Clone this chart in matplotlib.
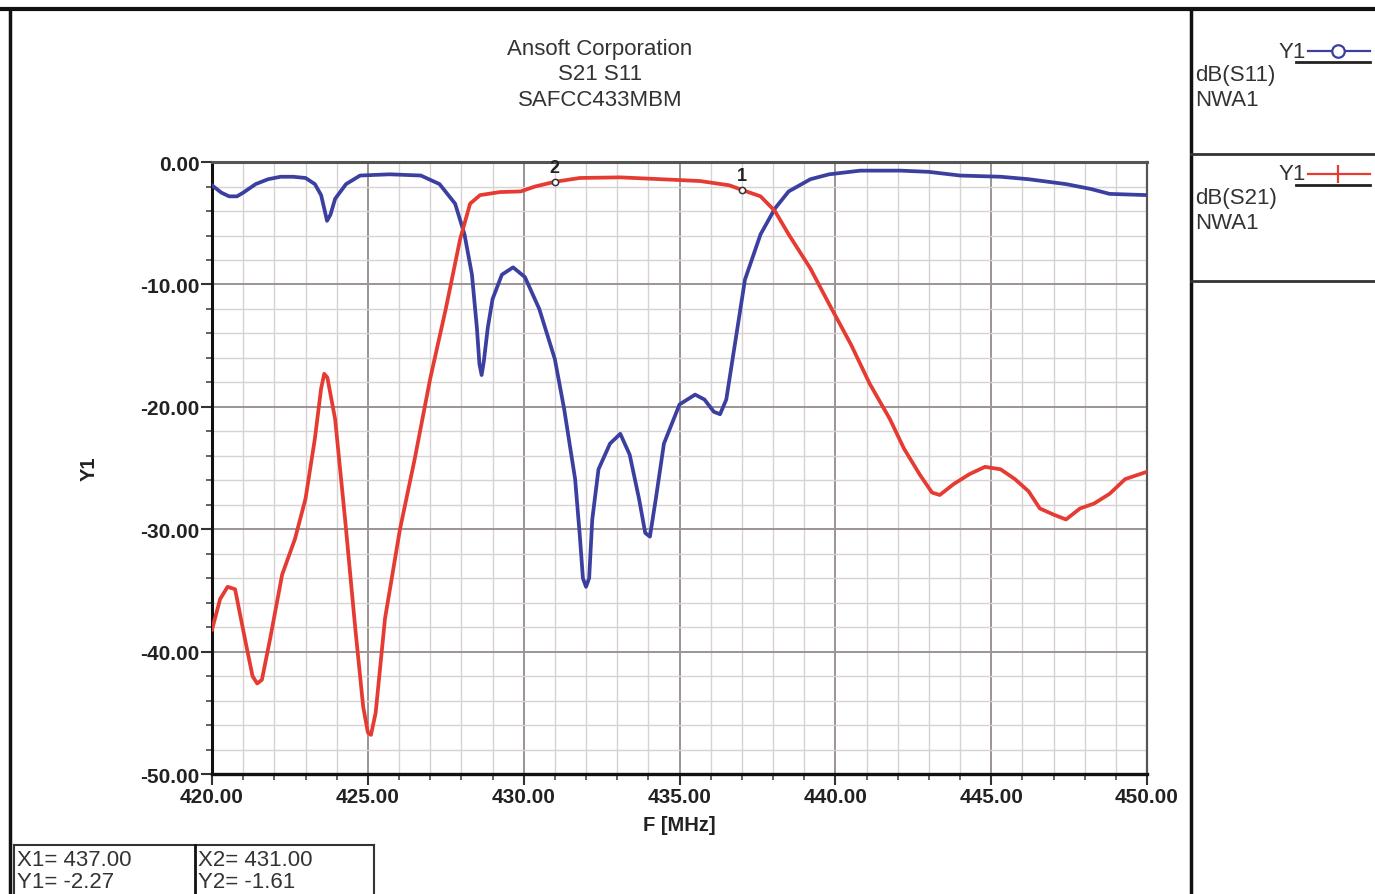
import numpy as np
import matplotlib
matplotlib.use("Agg")
import matplotlib.pyplot as plt
from matplotlib.lines import Line2D
from matplotlib.ticker import MultipleLocator
from matplotlib.transforms import ScaledTranslation

plt.rcParams['font.family'] = ['Liberation Sans', 'DejaVu Sans']

# dB(S11), blue trace
s11_f = [420.0, 420.3, 420.55, 420.8, 421.0, 421.4, 421.8, 422.2, 422.6, 423.0, 423.3, 423.5,
         423.6, 423.69, 423.8, 423.95, 424.3, 424.75, 425.7, 426.7, 427.3, 427.8, 428.1,
         428.34, 428.5, 428.58, 428.65, 428.72, 428.85, 429.0, 429.3, 429.66, 430.04, 430.5,
         431.0, 431.3, 431.65, 431.8, 431.9, 432.0, 432.1, 432.2, 432.4, 432.77, 433.1, 433.4,
         433.7, 433.9, 434.05, 434.24, 434.5, 435.0, 435.5, 435.8, 436.1, 436.3, 436.5, 436.8,
         437.1, 437.6, 438.06, 438.5, 439.2, 439.8, 440.8, 442.1, 443.0, 444.0, 445.3, 446.2,
         447.4, 448.2, 448.8, 450.0]
s11_db = [-1.9, -2.5, -2.8, -2.8, -2.5, -1.8, -1.4, -1.2, -1.2, -1.3, -1.8, -2.7,
          -3.8, -4.8, -4.3, -3.0, -1.8, -1.1, -1.0, -1.1, -1.8, -3.4, -5.9,
          -9.2, -13.6, -16.5, -17.4, -16.3, -13.5, -11.2, -9.2, -8.6, -9.4, -12.0,
          -16.1, -20.2, -25.9, -30.5, -34.0, -34.7, -34.0, -29.2, -25.1, -23.0, -22.2, -23.9,
          -27.5, -30.3, -30.6, -27.5, -23.0, -19.8, -19.0, -19.4, -20.4, -20.6, -19.4, -14.5,
          -9.6, -5.9, -3.8, -2.4, -1.4, -1.0, -0.7, -0.7, -0.8, -1.1, -1.2, -1.4,
          -1.8, -2.2, -2.6, -2.7]

# dB(S21), red trace
s21_f = [420.0, 420.26, 420.5, 420.74, 421.06, 421.3, 421.45, 421.6, 421.86, 422.25, 422.66,
         423.0, 423.3, 423.5, 423.6, 423.7, 423.95, 424.27, 424.6, 424.85, 425.0, 425.1,
         425.25, 425.55, 426.03, 426.5, 427.0, 427.5, 427.96, 428.28, 428.6, 429.24, 429.9,
         430.36, 431.0, 431.8, 433.1, 434.4, 435.66, 436.6, 437.0, 437.6, 438.06, 438.5,
         439.2, 439.8, 440.5, 441.1, 441.75, 442.2, 442.7, 443.1, 443.35, 443.8, 444.3,
         444.8, 445.3, 445.76, 446.2, 446.56, 447.0, 447.4, 447.85, 448.3, 448.8, 449.3, 450.0]
s21_db = [-38.2, -35.7, -34.7, -34.9, -39.0, -42.0, -42.6, -42.3, -39.0, -33.7, -30.8,
          -27.5, -22.6, -18.5, -17.3, -17.6, -21.0, -29.2, -38.2, -44.5, -46.6, -46.8,
          -45.0, -37.3, -30.0, -24.3, -17.7, -12.0, -6.3, -3.4, -2.7, -2.45, -2.4,
          -2.0, -1.61, -1.3, -1.25, -1.4, -1.55, -1.9, -2.27, -2.8, -4.0, -5.9,
          -8.7, -11.6, -14.9, -18.1, -21.0, -23.4, -25.5, -27.0, -27.2, -26.3, -25.5,
          -24.9, -25.1, -25.9, -26.9, -28.3, -28.8, -29.2, -28.3, -27.9, -27.1, -25.9, -25.3]

# markers on S21
marker_names = ['1', '2']
marker_f = [437.0, 431.0]
marker_db = [-2.27, -1.61]

x_ticks = [420, 425, 430, 435, 440, 445, 450]
y_ticks = [0, -10, -20, -30, -40, -50]

title_lines = ['Ansoft Corporation', 'S21 S11', 'SAFCC433MBM']

blue = '#3b40a0'
red = '#e63b32'

fig = plt.figure(figsize=(13.75, 8.95), dpi=100)
fig.patch.set_facecolor('white')
ax = fig.add_axes([0.1542, 0.134, 0.6800, 0.6838])

ax.plot(s11_f, s11_db, color=blue, lw=2.7, solid_joinstyle='round', zorder=3)
ax.plot(s21_f, s21_db, color=red, lw=2.7, solid_joinstyle='round', zorder=3)

for name, f, v in zip(marker_names, marker_f, marker_db):
    ax.plot([f], [v], marker='o', ms=4.5, mfc='white', mec='#333333', mew=1.1, zorder=4)
    ax.text(f, v + 0.45, name, ha='center', va='bottom', fontsize=13,
            fontweight='bold', color='#222222', zorder=5, clip_on=False)

ax.set_xlim(420, 450)
ax.set_ylim(-50, 0)
ax.xaxis.set_minor_locator(MultipleLocator(1))
ax.yaxis.set_minor_locator(MultipleLocator(2))
ax.set_xticks(x_ticks)
ax.set_xticklabels(['%.2f' % t for t in x_ticks])
ax.set_yticks(y_ticks)
ax.set_yticklabels(['%.2f' % t for t in y_ticks])

ax.grid(which='minor', color='#d9d2d2', lw=1.0, zorder=0)
ax.grid(which='major', color='#9c9494', lw=1.4, zorder=1)
ax.set_axisbelow(True)

shift = ScaledTranslation(-8 / 100, 0, fig.dpi_scale_trans)
for lab in ax.get_xticklabels() + ax.get_yticklabels():
    lab.set_fontweight('bold')
    lab.set_fontsize(15)
    lab.set_color('#222222')
for lab in ax.get_xticklabels():
    lab.set_transform(lab.get_transform() + shift)

ax.tick_params(which='major', direction='out', length=8, width=1.5, colors='#333333')
ax.tick_params(which='minor', direction='out', length=4, width=1.3, colors='#555555')
ax.tick_params(axis='y', which='major', pad=1, labelcolor='#222222')
ax.tick_params(axis='x', which='major', pad=1, labelcolor='#222222')

ax.spines['left'].set_linewidth(2.2)
ax.spines['bottom'].set_linewidth(2.4)
ax.spines['left'].set_color('#111111')
ax.spines['bottom'].set_color('#111111')
ax.spines['top'].set_linewidth(2.2)
ax.spines['right'].set_linewidth(1.6)
ax.spines['top'].set_color('#555555')
ax.spines['right'].set_color('#555555')

ax.set_xlabel('F [MHz]', fontsize=14.5, fontweight='bold', labelpad=7, color='#222222')
ax.set_ylabel('Y1', fontsize=14.5, fontweight='bold', labelpad=30, color='#222222')

for i, t in enumerate(title_lines):
    fig.text(600 / 1375, 1 - (50 + 25 * i) / 895, t, ha='center', va='center',
             fontsize=16, color='#333333')

# frame lines around the report
def fline(x0, y0, x1, y1, lw=2.5, c='#111111'):
    fig.add_artist(Line2D([x0 / 1375, x1 / 1375], [1 - y0 / 895, 1 - y1 / 895],
                          lw=lw, color=c))

fline(0, 10, 1375, 10, lw=3)
fline(10, 10, 10, 895, lw=2.5)
fline(1191, 10, 1191, 895, lw=2.5)
fline(1191, 155, 1375, 155, lw=2, c='#333333')
fline(1191, 282, 1375, 282, lw=2, c='#333333')

# legend panel
legend_rows = [('dB(S11)', blue, 'o', 52), ('dB(S21)', red, '|', 175)]
for label, col, mk, yy in legend_rows:
    fig.text(1306 / 1375, 1 - yy / 895, 'Y1', ha='right', va='center', fontsize=16, color='#333333')
    fig.add_artist(Line2D([1308 / 1375, 1370 / 1375], [1 - yy / 895] * 2, lw=1.6, color=col))
    fig.add_artist(Line2D([1338 / 1375], [1 - yy / 895], marker=mk, ms=9 if mk == 'o' else 13,
                          mfc='white', mec=col, mew=1.6, lw=0))
    fline(1296, yy + 11, 1370, yy + 11, lw=2, c='#222222')
    fig.text(1195 / 1375, 1 - (yy + 24) / 895, label, ha='left', va='center', fontsize=16, color='#333333')
    fig.text(1195 / 1375, 1 - (yy + 49) / 895, 'NWA1', ha='left', va='center', fontsize=16, color='#333333')

# marker value table
fline(14, 846, 374, 846, lw=1.5, c='#333333')
fline(14, 846, 14, 895, lw=1.5, c='#333333')
fline(374, 846, 374, 895, lw=1.5, c='#333333')
fline(195, 846, 195, 895, lw=2, c='#111111')
fig.text(17 / 1375, 1 - 861 / 895, 'X1= %.2f' % marker_f[0], ha='left', va='center', fontsize=16, color='#333333')
fig.text(17 / 1375, 1 - 893 / 895, 'Y1= %.2f' % marker_db[0], ha='left', va='bottom', fontsize=16, color='#333333')
fig.text(198 / 1375, 1 - 861 / 895, 'X2= %.2f' % marker_f[1], ha='left', va='center', fontsize=16, color='#333333')
fig.text(198 / 1375, 1 - 893 / 895, 'Y2= %.2f' % marker_db[1], ha='left', va='bottom', fontsize=16, color='#333333')

fig.savefig('out.png', dpi=100, facecolor='white')
